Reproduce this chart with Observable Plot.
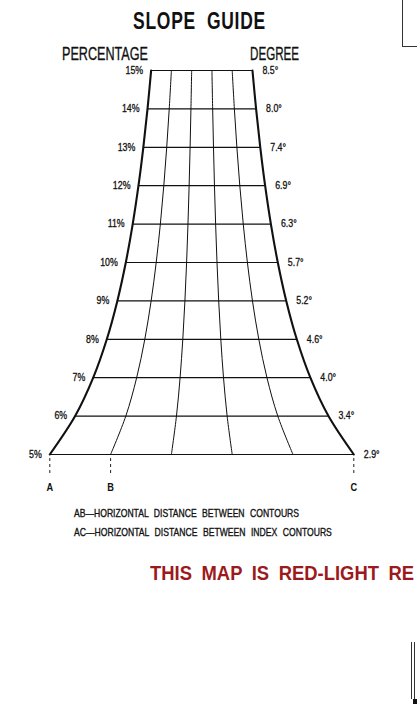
<!DOCTYPE html>
<html>
<head>
<meta charset="utf-8">
<script src="https://cdn.jsdelivr.net/npm/d3@7"></script>
<script src="https://cdn.jsdelivr.net/npm/@observablehq/plot@0.6"></script>
<style>
  html, body { margin: 0; padding: 0; background: #fff; }
  body { width: 417px; height: 704px; position: relative; overflow: hidden;
         font-family: "Liberation Sans", Arial, sans-serif; color: #111; }
  .t { position: absolute; white-space: nowrap; line-height: 1; transform-origin: 0 0; }
  .m { -webkit-text-stroke: 0.35px #111; }
  #chart { position: absolute; left: 0; top: 0; }
  .deco { position: absolute; }
</style>
</head>
<body>
<div id="chart"></div>
<div class="t" data-w="133" style="left:133px; top:10.3px; font-size:23px; font-weight:bold; letter-spacing:1px; word-spacing:7px;">SLOPE GUIDE</div>
<div class="t m" data-w="86" style="left:62px; top:44.3px; font-size:19px;">PERCENTAGE</div>
<div class="t m" data-w="49" style="left:250px; top:44.3px; font-size:19px;">DEGREE</div>
<div class="t m" data-w="225" style="left:74px; top:508.3px; font-size:11px; word-spacing:4px;">AB—HORIZONTAL DISTANCE BETWEEN CONTOURS</div>
<div class="t m" data-w="258" style="left:74px; top:527.3px; font-size:11px; word-spacing:4px;">AC—HORIZONTAL DISTANCE BETWEEN INDEX CONTOURS</div>
<div class="t" data-w="264" style="left:150px; top:563.3px; font-size:20.5px; font-weight:bold; color:#9c1a1c; word-spacing:5px;">THIS MAP IS RED-LIGHT RE</div>
<div class="deco" style="left:402px; top:-2px; width:30px; height:48px; border-left:1.3px solid #333; border-bottom:1.3px solid #333;"></div>
<div class="deco" style="left:410.5px; top:642px; width:1.5px; height:57px; background:#333;"></div>
<div class="deco" style="left:413.5px; top:642px; width:1.5px; height:57px; background:#333;"></div>
<div class="deco" style="left:413px; top:699px; width:6px; height:6px; background:#111;"></div>
<script>
// Slope in percent, one row per contour-spacing line
const percents = [5, 6, 7, 8, 9, 10, 11, 12, 13, 14, 15];
// Matching slope in degrees (printed labels)
const degreeLabels = ["2.9°", "3.4°", "4.0°", "4.6°", "5.2°", "5.7°", "6.3°", "6.9°", "7.4°", "8.0°", "8.5°"];
// Contour intervals across the guide (index contour every 5th)
const divisions = [0, 1, 2, 3, 4, 5];
// Reference points along the base
const pointLabels = ["A", "B", "C"];
const pointDivisions = [0, 1, 5];

// horizontal distance between contours for a slope of p percent
const spacing = p => 100 / p;
const xAt = (j, p) => (j - 2.5) * spacing(p);

const grid = percents.flatMap(p => divisions.map(j => ({p, j, x: xAt(j, p)})));
const rows = percents.map((p, i) => ({p, deg: degreeLabels[i], left: xAt(0, p), right: xAt(5, p)}));
const base = pointLabels.map((lab, i) => ({lab, x: xAt(pointDivisions[i], percents[0]), p: percents[0]}));

const font = "'Liberation Sans', Arial, sans-serif";

const chart = Plot.plot({
  width: 417,
  height: 500,
  margin: 0,
  x: {domain: [-50, 50], range: [49.3, 353.3], axis: null},
  y: {domain: [5, 15], range: [454, 70], axis: null},
  style: {background: "transparent", fontFamily: font},
  marks: [
    Plot.ruleY(rows, {y: "p", x1: "left", x2: "right", stroke: "#111", strokeWidth: 1.2}),
    Plot.line(grid.filter(d => d.j > 0 && d.j < 5), {x: "x", y: "p", z: "j", curve: "catmull-rom", stroke: "#111", strokeWidth: 1}),
    Plot.line(grid.filter(d => d.j === 0 || d.j === 5), {x: "x", y: "p", z: "j", curve: "catmull-rom", stroke: "#111", strokeWidth: 2.1}),
    Plot.ruleX(base, {x: "x", y1: "p", y2: "p", insetTop: 4, insetBottom: -19, stroke: "#222", strokeWidth: 1, strokeDasharray: "3,3"}),
    Plot.text(rows, {x: "left", y: "p", text: d => d.p + "%", textAnchor: "end", dx: -8, fontSize: 10.5, fill: "#111", stroke: "#111", strokeWidth: 0.3, fontFamily: font}),
    Plot.text(rows, {x: "right", y: "p", text: "deg", textAnchor: "start", dx: 10, fontSize: 10.5, fill: "#111", stroke: "#111", strokeWidth: 0.3, fontFamily: font}),
    Plot.text(base, {x: "x", y: "p", text: "lab", dy: 33, fontSize: 11, fontWeight: "bold", fill: "#111", fontFamily: font})
  ]
});
// condensed look for the labels
d3.select(chart).selectAll("text").each(function () {
  const t = this.getAttribute("transform") || "";
  this.setAttribute("transform", t + " scale(0.84,1)");
});
document.getElementById("chart").appendChild(chart);

// fit HTML texts to their printed widths (condensed typeface)
document.querySelectorAll("[data-w]").forEach(el => {
  const w = el.getBoundingClientRect().width;
  el.style.transform = `scaleX(${(+el.dataset.w / w).toFixed(3)})`;
});
</script>
</body>
</html>
